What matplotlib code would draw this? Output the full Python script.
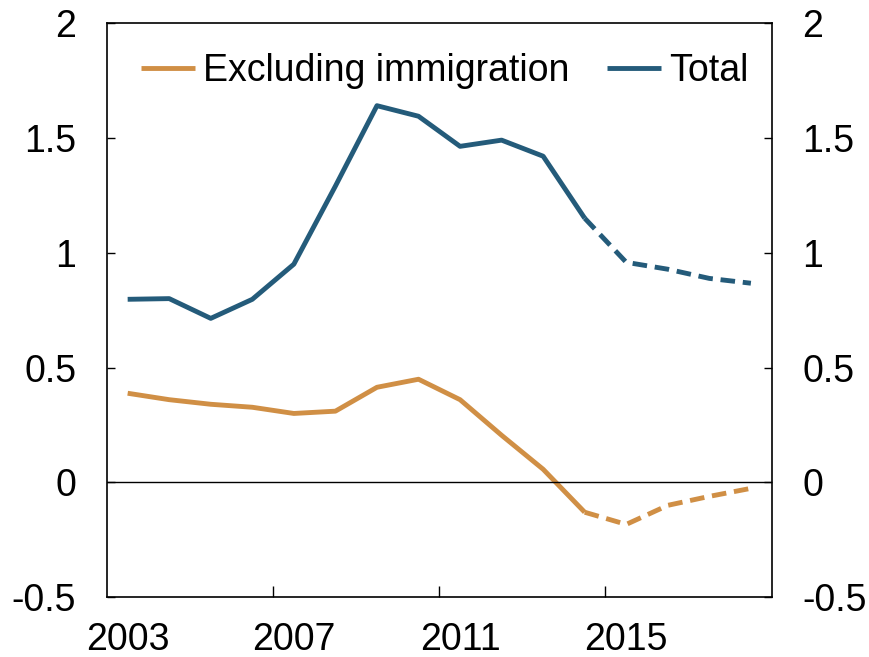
import numpy as np
import matplotlib.pyplot as plt

plt.rcParams['font.family'] = ['Liberation Sans', 'DejaVu Sans']

years = list(range(2003, 2019))
total = [0.797, 0.80, 0.714, 0.797, 0.95, 1.29, 1.64, 1.594, 1.463, 1.49, 1.42,
         1.15, 0.958, 0.928, 0.888, 0.867]
excl_immigration = [0.388, 0.36, 0.34, 0.327, 0.30, 0.31, 0.414, 0.449, 0.36, 0.205,
                    0.057, -0.13, -0.183, -0.10, -0.061, -0.026]
last_actual = 2014  # projections (dashed) after this year

c_excl = '#D08F45'
c_total = '#245B7A'
lw = 3.5
dash = (0, (3, 1.6))

fig = plt.figure(figsize=(8.69, 6.57), dpi=100)
ax = fig.add_axes([0.123, 0.091, 0.765, 0.874])

x = np.array(years)
k = years.index(last_actual)
ax.plot(x[:k + 1], excl_immigration[:k + 1], color=c_excl, lw=lw, label='Excluding immigration',
        solid_capstyle='butt')
ax.plot(x[k:], excl_immigration[k:], color=c_excl, lw=lw, ls=dash)
ax.plot(x[:k + 1], total[:k + 1], color=c_total, lw=lw, label='Total', solid_capstyle='butt')
ax.plot(x[k:], total[k:], color=c_total, lw=lw, ls=dash)

ax.axhline(0, color='black', lw=1)

ax.set_xlim(2002.5, 2018.5)
ax.set_ylim(-0.5, 2)
yt = [-0.5, 0, 0.5, 1, 1.5, 2]
ylabels = ['-0.5', '0', '0.5', '1', '1.5', '2']
ax.set_yticks(yt)
ax.set_yticklabels(ylabels)
ax.tick_params(axis='y', direction='in', length=6, width=1, labelsize=27, pad=22,
               right=True, labelright=True)

ax.set_xticks([2006.5, 2010.5, 2014.5])
ax.set_xticklabels([])
ax.set_xticks([2003, 2007, 2011, 2015], minor=True)
ax.set_xticklabels(['2003', '2007', '2011', '2015'], minor=True)
ax.tick_params(axis='x', which='major', direction='in', length=8, width=1)
ax.tick_params(axis='x', which='minor', length=0, labelsize=27, pad=18)

for s in ax.spines.values():
    s.set_linewidth(1.2)

leg = ax.legend(loc='upper center', bbox_to_anchor=(0.508, 1.0), ncol=2, frameon=False,
                fontsize=27, handlelength=1.45, handletextpad=0.2, columnspacing=1.0,
                borderaxespad=0.4)

fig.savefig('out.png', dpi=100)
